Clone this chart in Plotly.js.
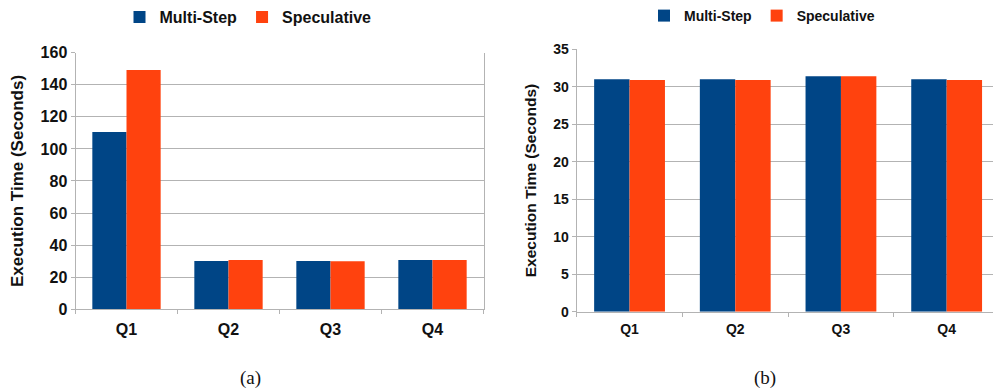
<!DOCTYPE html>
<html>
<head>
<meta charset="utf-8">
<script src="https://cdn.plot.ly/plotly-3.0.1.min.js"></script>
<style>
html, body { margin: 0; padding: 0; overflow: hidden; background: #fff; }
#chart { width: 1000px; height: 390px; }
</style>
</head>
<body>
<div id="chart"></div>
<script>
const categories = ["Q1", "Q2", "Q3", "Q4"];
const seriesNames = ["Multi-Step", "Speculative"];
// Panel (a)
const multiStepA = [110.5, 30.1, 30.1, 30.7];
const speculativeA = [149.2, 30.7, 30.0, 30.7];
// Panel (b)
const multiStepB = [31.0, 31.0, 31.4, 31.0];
const speculativeB = [30.9, 30.9, 31.4, 30.9];
const yTitle = "Execution Time (Seconds)";
const captions = ["(a)", "(b)"];

const BLUE = "#004586", ORANGE = "#ff420e", GRID = "#b3b3b3";
const sans = "Liberation Sans, Arial, sans-serif";

function bar(name, x, y, color, xa, ya, legend) {
  return { type: "bar", name: name, x: x, y: y, xaxis: xa, yaxis: ya,
           legend: legend, marker: { color: color, line: { width: 0 } },
           hoverinfo: "x+y+name" };
}

const data = [
  bar(seriesNames[0], categories, multiStepA, BLUE, "x", "y", "legend"),
  bar(seriesNames[1], categories, speculativeA, ORANGE, "x", "y", "legend"),
  bar(seriesNames[0], categories, multiStepB, BLUE, "x2", "y2", "legend2"),
  bar(seriesNames[1], categories, speculativeB, ORANGE, "x2", "y2", "legend2")
];

function xAxis(domain, anchor, size, standoff) {
  return { domain: domain, anchor: anchor, type: "category",
           showline: true, linecolor: GRID, linewidth: 1,
           ticks: "outside", ticklen: 4, tickcolor: GRID, tickson: "boundaries",
           ticklabelstandoff: standoff,
           tickfont: { family: sans, size: size, color: "#111", weight: "bold" },
           showgrid: false, zeroline: false, fixedrange: true };
}
function yAxis(domain, anchor, range, dtick, size, titleSize, standoff) {
  return { domain: domain, anchor: anchor, range: range, dtick: dtick,
           showline: true, mirror: true, linecolor: GRID, linewidth: 1,
           ticks: "outside", ticklen: 4, tickcolor: GRID,
           showgrid: true, gridcolor: GRID, gridwidth: 1, zeroline: false,
           tickfont: { family: sans, size: size, color: "#111", weight: "bold" },
           title: { text: yTitle, standoff: standoff,
                    font: { family: sans, size: titleSize, color: "#111", weight: "bold" } },
           automargin: false, fixedrange: true };
}

const layout = {
  width: 1000, height: 390,
  margin: { l: 0, r: 0, t: 0, b: 0 },
  paper_bgcolor: "#fff", plot_bgcolor: "#fff",
  barmode: "group", bargap: 0.33, bargroupgap: 0,
  showlegend: true,
  xaxis: xAxis([0.0755, 0.4835], "y", 16, 5),
  yaxis: yAxis([0.2069, 0.8649], "x", [0, 160], 20, 16, 17, 12),
  xaxis2: xAxis([0.5767, 0.9995], "y2", 14, 5),
  yaxis2: yAxis([0.2008, 0.8736], "x2", [0, 35], 5, 14, 15.5, 12),
  legend: { orientation: "h", x: 0.248, xanchor: "center", y: 1.0, yanchor: "top",
            font: { family: sans, size: 16, color: "#111", weight: "bold" },
            itemwidth: 30, tracegroupgap: 0, bgcolor: "rgba(0,0,0,0)" },
  legend2: { orientation: "h", x: 0.762, xanchor: "center", y: 1.0, yanchor: "top",
             font: { family: sans, size: 14, color: "#111", weight: "bold" },
             itemwidth: 30, tracegroupgap: 0, bgcolor: "rgba(0,0,0,0)" },
  annotations: [
    { text: captions[0], xref: "paper", yref: "paper", x: 0.250, y: (390 - 378) / 390,
      showarrow: false, xanchor: "center", yanchor: "middle",
      font: { family: "Liberation Serif, Times New Roman, serif", size: 19, color: "#111" } },
    { text: captions[1], xref: "paper", yref: "paper", x: 0.765, y: (390 - 378) / 390,
      showarrow: false, xanchor: "center", yanchor: "middle",
      font: { family: "Liberation Serif, Times New Roman, serif", size: 19, color: "#111" } }
  ]
};

Plotly.newPlot("chart", data, layout, { displayModeBar: false, staticPlot: false });
</script>
</body>
</html>
